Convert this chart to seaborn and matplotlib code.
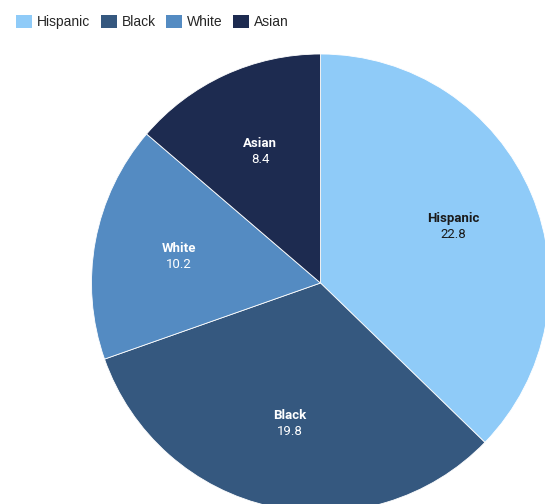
import matplotlib
matplotlib.use("Agg")
import matplotlib.pyplot as plt
import seaborn as sns
import numpy as np
from matplotlib.patches import Patch

sns.set_theme(style="white")
plt.rcParams['font.family'] = ['Roboto', 'DejaVu Sans']

categories = ["Hispanic", "Black", "White", "Asian"]
values = [22.8, 19.8, 10.2, 8.4]
value_labels = ["22.8", "19.8", "10.2", "8.4"]
colors = ["#8FCBF8", "#35587F", "#548BC2", "#1D2B50"]
text_colors = ["#1a1a1a", "white", "white", "white"]

W, H = 545, 504
fig = plt.figure(figsize=(W / 100, H / 100), dpi=100)
ax = fig.add_axes([0, 0, 1, 1])

cx, cy, R = 320.5, 283.0, 229.0
wedges, _ = ax.pie(values, colors=colors, startangle=90, counterclock=False,
                   radius=1.0, wedgeprops=dict(edgecolor="white", linewidth=0.6))
ax.set_xlim(-cx / R, (W - cx) / R)
ax.set_ylim(-(H - cy) / R, cy / R)
ax.set_aspect('auto')
ax.axis('off')

total = sum(values)
start = 90.0
for cat, v, vl, tc in zip(categories, values, value_labels, text_colors):
    sweep = v / total * 360
    mid = np.deg2rad(start - sweep / 2)
    start -= sweep
    r = 0.63
    x, y = r * np.cos(mid), r * np.sin(mid)
    ax.text(x, y + 0.035, cat, ha='center', va='center', fontsize=9.5,
            fontweight='bold', color=tc)
    ax.text(x, y - 0.035, vl, ha='center', va='center', fontsize=9.5,
            color=tc)

handles = [Patch(facecolor=c, edgecolor='none') for c in colors]
fig.legend(handles, categories, loc='upper left', bbox_to_anchor=(0.012, 0.99),
           ncol=4, frameon=False,
           prop={'family': ['Liberation Sans', 'DejaVu Sans'], 'size': 10},
           handlelength=1.15, handleheight=1.05, handletextpad=0.35,
           columnspacing=0.75, borderaxespad=0.3)

fig.savefig("out.png", dpi=100)
